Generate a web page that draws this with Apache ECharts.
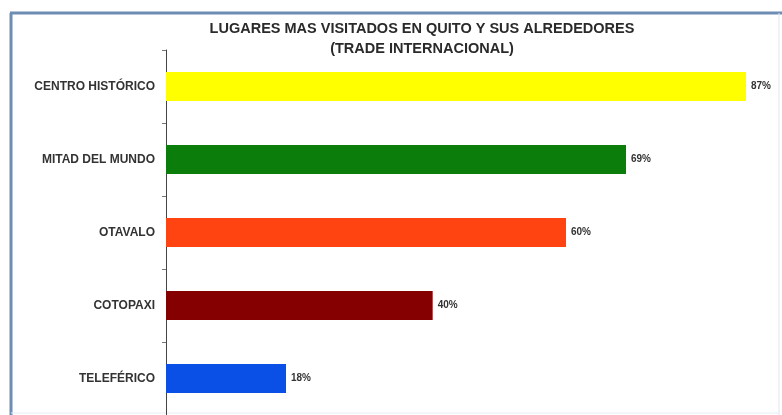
<!DOCTYPE html>
<html>
<head>
<meta charset="utf-8">
<style>
  html, body { margin: 0; padding: 0; background: #ffffff; }
  #chart { width: 782px; height: 415px; }
</style>
<script src="https://cdn.jsdelivr.net/npm/echarts@6/dist/echarts.min.js"></script>
</head>
<body>
<div id="chart"></div>
<script>
// Places most visited in Quito and surroundings (international trade), percent
const places = ['CENTRO HISTÓRICO', 'MITAD DEL MUNDO', 'OTAVALO', 'COTOPAXI', 'TELEFÉRICO'];
const shares = [87, 69, 60, 40, 18];
const barColors = ['#ffff00', '#0b7d0b', '#ff4411', '#850000', '#0a50e6'];
const titleLines = ['LUGARES MAS VISITADOS EN QUITO Y SUS ALREDEDORES', '(TRADE INTERNACIONAL)'];

const chart = echarts.init(document.getElementById('chart'), null, { renderer: 'canvas' });

chart.setOption({
  backgroundColor: '#ffffff',
  animation: false,
  title: {
    text: titleLines.join('\n'),
    left: 417,
    top: 14,
    textAlign: 'center',
    textStyle: {
      fontFamily: 'Liberation Sans',
      fontWeight: 'bold',
      fontSize: 14.5,
      lineHeight: 20,
      color: '#2a2a2a'
    }
  },
  grid: { left: 166, right: 16, top: 50, bottom: 0, containLabel: false },
  xAxis: {
    type: 'value',
    min: 0,
    max: 90,
    show: false
  },
  yAxis: {
    type: 'category',
    data: places,
    inverse: true,
    axisLine: { show: true, lineStyle: { color: '#444444', width: 1 } },
    axisTick: { show: true, length: 4, lineStyle: { color: '#777777' } },
    axisLabel: {
      margin: 11,
      fontFamily: 'Liberation Sans',
      fontWeight: 'bold',
      fontSize: 12,
      color: '#333333'
    }
  },
  series: [{
    type: 'bar',
    barWidth: 29,
    data: shares.map((v, i) => ({ value: v, itemStyle: { color: barColors[i] } })),
    label: {
      show: true,
      position: 'right',
      distance: 5,
      formatter: '{c}%',
      fontFamily: 'Liberation Sans',
      fontWeight: 'bold',
      fontSize: 10,
      color: '#333333'
    }
  }],
  graphic: [
    // chart frame
    { type: 'line', shape: { x1: 11, y1: 13, x2: 11, y2: 415 }, style: { stroke: '#6d8db4', lineWidth: 3 } },
    { type: 'line', shape: { x1: 10, y1: 13, x2: 782, y2: 13 }, style: { stroke: '#6d8db4', lineWidth: 3 } },
    { type: 'line', shape: { x1: 779, y1: 13, x2: 779, y2: 415 }, style: { stroke: '#dfe6ee', lineWidth: 1 } },
    { type: 'line', shape: { x1: 11, y1: 413, x2: 779, y2: 413 }, style: { stroke: '#e6eef2', lineWidth: 1 } }
  ]
});
</script>
</body>
</html>
